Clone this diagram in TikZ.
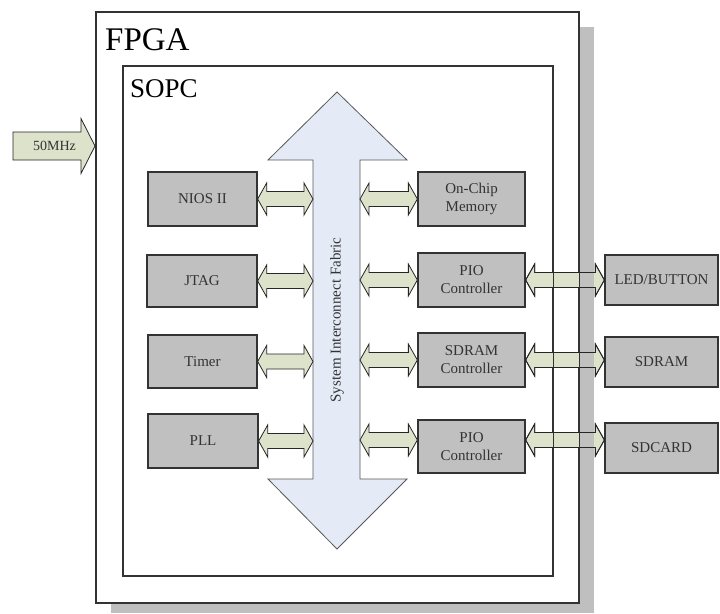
\documentclass[tikz,border=0pt]{standalone}
\usepackage{fontspec}
\setmainfont{Liberation Serif}
\usetikzlibrary{calc}
\definecolor{boxgray}{HTML}{C0C0C0}
\definecolor{linegray}{HTML}{333333}
\definecolor{arrowfill}{HTML}{DDE2CB}
\definecolor{busfill}{HTML}{E4EBF6}
\definecolor{shadowgray}{HTML}{BFBFBF}
\definecolor{textgray}{HTML}{333333}
\newcommand\dblarr[3][]{%
  \path[link,#1] let \p1=#2, \p2=#3 in
  (\x1,\y1) -- (\x1+9pt,\y1+16pt) -- (\x1+9pt,\y1+7.5pt) -- (\x2-9pt,\y1+7.5pt)
  -- (\x2-9pt,\y1+16pt) -- (\x2,\y1) -- (\x2-9pt,\y1-16pt) -- (\x2-9pt,\y1-7.5pt)
  -- (\x1+9pt,\y1-7.5pt) -- (\x1+9pt,\y1-16pt) -- cycle;}
\begin{document}
\begin{tikzpicture}[x=1pt,y=-1pt,
  block/.style={draw=linegray, line width=1.3pt, fill=boxgray, inner sep=0pt,
    align=center, text=textgray, font=\fontsize{15}{18}\selectfont},
  link/.style={draw=black!85, line width=0.8pt, fill=arrowfill},
  frame/.style={draw=linegray, line width=1.5pt, inner sep=0pt, anchor=north west},
  busline/.style={draw=black!65, line width=0.8pt, fill=busfill},
]
\useasboundingbox (0,0) rectangle (720,613);
% shadow and frames
\fill[shadowgray] (111,27) rectangle (594,613);
\node[frame, fill=white, minimum width=483, minimum height=591] (fpga) at (95,11) {};
\node[frame, minimum width=430, minimum height=510] (sopc) at (122,65) {};
\node[anchor=base west, inner sep=0pt, font=\fontsize{33}{36}\selectfont] (fpgalabel) at (105,50) {FPGA};
\node[anchor=base west, inner sep=0pt, font=\fontsize{27}{30}\selectfont] (sopclabel) at (130,97) {SOPC};
% system interconnect bus
\draw[busline] (337,92) -- (407,160) -- (360,160) -- (360,479) -- (407,479) -- (337,549)
  -- (268,479) -- (313,479) -- (313,160) -- (268,160) -- cycle;
\coordinate (busW) at (313,320);
\coordinate (busE) at (360,320);
\node[rotate=90, text=textgray, font=\fontsize{15}{18}\selectfont] (buslabel) at (337,320) {System Interconnect Fabric};
% left blocks
\node[block, minimum width=109, minimum height=54] (nios) at (202.5,199) {NIOS II};
\node[block, minimum width=110, minimum height=52] (jtag) at (202,281) {JTAG};
\node[block, minimum width=109, minimum height=53] (timer) at (202.5,361.5) {Timer};
\node[block, minimum width=110, minimum height=54] (pll) at (203,441) {PLL};
% right blocks
\node[block, minimum width=107, minimum height=54] (onchip) at (471.5,199) {On-Chip\\Memory};
\node[block, minimum width=107, minimum height=54] (pio1) at (471.5,280) {PIO\\Controller};
\node[block, minimum width=107, minimum height=54] (sdramc) at (471.5,360) {SDRAM\\Controller};
\node[block, minimum width=107, minimum height=53] (pio2) at (471.5,446.5) {PIO\\Controller};
% external blocks
\node[block, minimum width=113, minimum height=50] (led) at (661.5,280) {LED/BUTTON};
\node[block, minimum width=113, minimum height=50] (sdram) at (661.5,362) {SDRAM};
\node[block, minimum width=113, minimum height=50] (sdcard) at (661.5,448) {SDCARD};
% connectors
\coordinate (p2a) at ([yshift=6.5pt]pio2.west);
\coordinate (p2b) at ([yshift=6.5pt]pio2.east);
\dblarr{(nios.east)}{(busW |- nios.east)}
\dblarr{(jtag.east)}{(busW |- jtag.east)}
\dblarr{(timer.east)}{(busW |- timer.east)}
\dblarr{(pll.east)}{(busW |- pll.east)}
\dblarr{(busE |- onchip.west)}{(onchip.west)}
\dblarr{(busE |- pio1.west)}{(pio1.west)}
\dblarr{(busE |- sdramc.west)}{(sdramc.west)}
\dblarr{(busE |- p2a)}{(p2a)}
\dblarr{(pio1.east)}{(led.west |- pio1.east)}
\dblarr{(sdramc.east)}{(sdram.west |- sdramc.east)}
\dblarr{(p2b)}{(sdcard.west |- p2b)}
% shadow strip and frame edges seen through the long connectors
\fill[shadowgray, fill opacity=0.9] (fpga.north east) ++(0,16) rectangle (594,613);
\draw[draw=linegray, line width=1.5pt] (fpga.north east) -- (fpga.south east);
\draw[draw=linegray, line width=1.5pt] (sopc.north east) -- (sopc.south east);
\dblarr[fill=none]{(pio1.east)}{(led.west |- pio1.east)}
\dblarr[fill=none]{(sdramc.east)}{(sdram.west |- sdramc.east)}
\dblarr[fill=none]{(p2b)}{(sdcard.west |- p2b)}
% clock input
\coordinate (clkin) at (13,146);
\path[link] let \p1=(clkin), \p2=(fpga.west |- clkin) in
  (\x1,\y1+14pt) -- (\x2-14pt,\y1+14pt) -- (\x2-14pt,\y1+27.5pt) -- (\x2,\y1)
  -- (\x2-14pt,\y1-27.5pt) -- (\x2-14pt,\y1-14pt) -- (\x1,\y1-14pt) -- cycle;
\node[text=textgray, font=\fontsize{14}{16}\selectfont] (clklabel) at (54.5,146) {50MHz};
\end{tikzpicture}
\end{document}
